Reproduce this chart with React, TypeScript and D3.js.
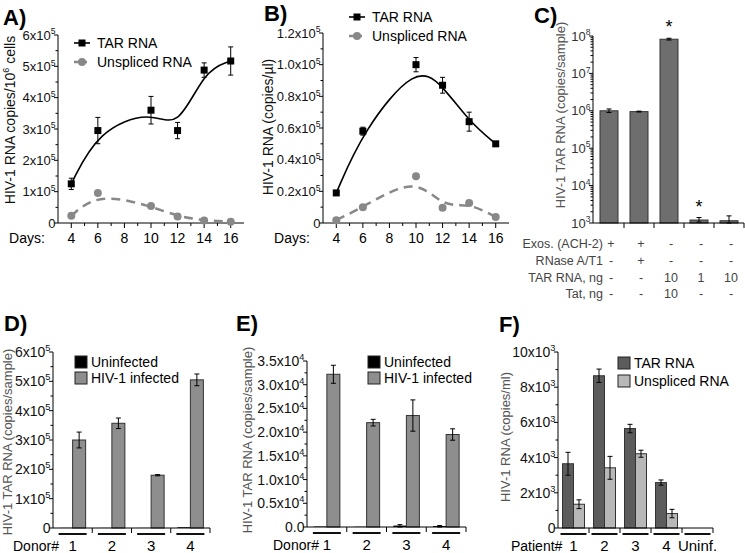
import * as React from 'react'
import * as d3 from 'd3'

const FONT = '"Liberation Sans", Arial, sans-serif'

// A / B time course
const days = [4, 6, 10, 12, 14, 16]
const dayTicks = [4, 6, 8, 10, 12, 14, 16]
const dayMinor = [5, 7, 9, 11, 13, 15]
const aTar = [1.25, 2.95, 3.6, 2.95, 4.88, 5.17]
const aTarErr = [0.18, 0.42, 0.44, 0.26, 0.23, 0.45]
const aUnspliced = [0.23, 0.96, 0.54, 0.21, 0.08, 0.04]
const bTar = [0.19, 0.58, 1.0, 0.87, 0.64, 0.5]
const bTarErr = [0, 0.025, 0.045, 0.05, 0.06, 0]
const bUnspliced = [0.018, 0.1, 0.296, 0.097, 0.127, 0.038]
const bUnsplicedErr = [0, 0, 0.012, 0, 0, 0]

// C exosomes
const cCols = ['c1', 'c2', 'c3', 'c4', 'c5']
const cRowLabels = ['Exos. (ACH-2)', 'RNase A/T1', 'TAR RNA, ng', 'Tat, ng']
const cTable = [
  ['+', '+', '-', '-', '-'],
  ['-', '+', '-', '-', '-'],
  ['-', '-', '10', '1', '10'],
  ['-', '-', '10', '-', '-'],
]
const cValues = [1.0e6, 0.95e6, 8.2e7, 1.2e3, 1.15e3]
const cErrHi = [1.12e6, 0.98e6, 8.7e7, 1.4e3, 1.55e3]
const cErrLo = [0.9e6, 0.93e6, 7.8e7, 1.05e3, 1.0e3]
const cStars = [false, false, true, true, false]

// D / E donors
const donors = ['1', '2', '3', '4']
const dUninfected = [0.004, 0.003, 0.003, 0.025]
const dInfected = [3.0, 3.57, 1.8, 5.05]
const dInfectedErr = [0.27, 0.18, 0.02, 0.2]
const eUninfected = [0.01, 0.005, 0.03, 0.02]
const eUninfectedErr = [0, 0, 0.02, 0.01]
const eInfected = [3.22, 2.2, 2.35, 1.95]
const eInfectedErr = [0.19, 0.07, 0.33, 0.12]

// F patients
const patients = ['1', '2', '3', '4', 'Uninf.']
const fTar = [3.65, 8.65, 5.65, 2.58, 0]
const fTarErr = [0.65, 0.38, 0.24, 0.15, 0]
const fUnspliced = [1.35, 3.42, 4.22, 0.82, 0]
const fUnsplicedErr = [0.25, 0.65, 0.2, 0.24, 0]

function Label({x, y, base, exp, size = 13, anchor = 'end', fill = '#111'}) {
  return (
    <text x={x} y={y} textAnchor={anchor} fontSize={size} fill={fill}>
      {base}
      {exp ? <tspan dy={-size * 0.42} fontSize={size * 0.66}>{exp}</tspan> : null}
    </text>
  )
}

function YAxis({x, scale, majors, minors, fmt, size = 13, fill = '#111'}) {
  const [y0, y1] = scale.range()
  return (
    <g>
      <line x1={x} x2={x} y1={y0} y2={y1} stroke="#000" />
      {minors.map(v => (
        <line key={'m' + v} x1={x - 2.5} x2={x} y1={scale(v)} y2={scale(v)} stroke="#000" />
      ))}
      {majors.map(v => {
        const [b, e] = fmt(v)
        const yy = scale(v)
        return (
          <g key={'t' + v}>
            <line x1={x - 4} x2={x} y1={yy} y2={yy} stroke="#000" />
            <Label x={x - 2.5} y={yy + size * 0.36} base={b} exp={e} size={size} fill={fill} />
          </g>
        )
      })}
    </g>
  )
}

function YTitle({x, y, children, size = 14, fill = '#111'}) {
  return (
    <text transform={`translate(${x},${y}) rotate(-90)`} textAnchor="middle" fontSize={size} fill={fill}>
      {children}
    </text>
  )
}

function ErrBar({x, yHi, yLo, w = 5}) {
  return (
    <g stroke="#000" strokeWidth={1}>
      <line x1={x} x2={x} y1={yHi} y2={yLo} />
      <line x1={x - w / 2} x2={x + w / 2} y1={yHi} y2={yHi} />
      <line x1={x - w / 2} x2={x + w / 2} y1={yLo} y2={yLo} />
    </g>
  )
}

function TimeCourse({x0, x1, yTop, yBottom, yMax, tar, tarErr, uns, unsErr, fmt, majors, minors}) {
  const x = d3.scaleLinear().domain([3, 17]).range([x0, x1])
  const y = d3.scaleLinear().domain([0, yMax]).range([yBottom, yTop])
  const line = d3.line<[number, number]>().x(d => x(d[0])).y(d => y(d[1])).curve(d3.curveBasis)
  const tarPts = days.map((d, i) => [d, tar[i]] as [number, number])
  const unsPts = days.map((d, i) => [d, uns[i]] as [number, number])
  return (
    <g>
      <YAxis x={x0} scale={y} majors={majors} minors={minors} fmt={fmt} />
      <line x1={x0} x2={x1} y1={yBottom} y2={yBottom} stroke="#000" />
      {dayTicks.map(d => (
        <g key={d}>
          <line x1={x(d)} x2={x(d)} y1={yBottom} y2={yBottom + 5} stroke="#000" />
          <text x={x(d)} y={yBottom + 20} textAnchor="middle" fontSize={14}>{d}</text>
        </g>
      ))}
      {dayMinor.map(d => (
        <line key={d} x1={x(d)} x2={x(d)} y1={yBottom} y2={yBottom + 3} stroke="#000" />
      ))}
      <text x={x0 - 31} y={yBottom + 20} textAnchor="middle" fontSize={14}>Days:</text>
      <path d={line(unsPts) || ''} fill="none" stroke="#888" strokeWidth={2.5} strokeDasharray="9,6" />
      <path d={line(tarPts) || ''} fill="none" stroke="#000" strokeWidth={1.6} />
      {days.map((d, i) => unsErr[i] > 0 ? (
        <ErrBar key={'ue' + d} x={x(d)} yHi={y(uns[i] + unsErr[i])} yLo={y(uns[i] - unsErr[i])} />
      ) : null)}
      {days.map((d, i) => tarErr[i] > 0 ? (
        <ErrBar key={'te' + d} x={x(d)} yHi={y(tar[i] + tarErr[i])} yLo={y(tar[i] - tarErr[i])} />
      ) : null)}
      {days.map((d, i) => (
        <circle key={'u' + d} cx={x(d)} cy={y(uns[i])} r={4} fill="#888" />
      ))}
      {days.map((d, i) => (
        <rect key={'t' + d} x={x(d) - 3.5} y={y(tar[i]) - 3.5} width={7} height={7} fill="#000" />
      ))}
    </g>
  )
}

function LineLegend({x, y}) {
  return (
    <g fontSize={14}>
      <line x1={x} x2={x + 16} y1={y} y2={y} stroke="#000" strokeWidth={1.6} />
      <rect x={x + 4.5} y={y - 3.5} width={7} height={7} fill="#000" />
      <text x={x + 23} y={y + 5}>TAR RNA</text>
      <line x1={x} x2={x + 16} y1={y + 19} y2={y + 19} stroke="#888" strokeWidth={2.5} strokeDasharray="5,3" />
      <circle cx={x + 8} cy={y + 19} r={4} fill="#888" />
      <text x={x + 23} y={y + 24}>Unspliced RNA</text>
    </g>
  )
}

function BoxLegend({x, y, items, gap = 17}) {
  return (
    <g fontSize={14}>
      {items.map(([name, color], i) => (
        <g key={name}>
          <rect x={x} y={y + i * gap - 6} width={12} height={12} fill={color} stroke="#222" />
          <text x={x + 16} y={y + i * gap + 5}>{name}</text>
        </g>
      ))}
    </g>
  )
}

function GroupAxis({x0, x1, yBase, band, cats, title, titleX, underline}) {
  const bw = band.bandwidth()
  return (
    <g>
      <line x1={x0} x2={x1} y1={yBase} y2={yBase} stroke="#000" />
      {cats.map((c, i) => (
        <g key={c}>
          <line x1={band(c) + bw} x2={band(c) + bw} y1={yBase} y2={yBase + 5} stroke="#000" />
          <line x1={band(c) + bw / 2 - underline} x2={band(c) + bw / 2 + underline} y1={yBase + 6} y2={yBase + 6} stroke="#111" strokeWidth={2} />
          <text x={band(c) + bw / 2} y={yBase + 23} textAnchor="middle" fontSize={15}>{c}</text>
        </g>
      ))}
      <text x={titleX} y={yBase + 23} fontSize={14}>{title}</text>
    </g>
  )
}

function PanelC() {
  const x = d3.scaleBand().domain(cCols).range([594, 744]).paddingInner(0.4).paddingOuter(0.2)
  const y = d3.scaleLog().domain([1e3, 1e8]).range([223, 36])
  const majors = [1e3, 1e4, 1e5, 1e6, 1e7, 1e8]
  const minors: number[] = []
  for (let k = 3; k < 8; k++) for (let m = 2; m < 10; m++) minors.push(m * Math.pow(10, k))
  const band = d3.scaleBand().domain(cCols).range([594, 744])
  const rowY = [243, 260, 277, 293]
  return (
    <g>
      {cCols.map((c, i) => (
        <rect key={c} x={x(c)} y={y(cValues[i])} width={x.bandwidth()} height={223 - y(cValues[i])} fill="#6e6e6e" stroke="#333" />
      ))}
      {cCols.map((c, i) => (
        <ErrBar key={'e' + c} x={x(c) + x.bandwidth() / 2} yHi={y(cErrHi[i])} yLo={Math.min(223, y(cErrLo[i]))} />
      ))}
      {cCols.map((c, i) => cStars[i] ? (
        <text key={'s' + c} x={x(c) + x.bandwidth() / 2} y={y(cErrHi[i]) - 5} textAnchor="middle" fontSize={18}>*</text>
      ) : null)}
      <YAxis x={593} scale={y} majors={majors} minors={minors}
        fmt={v => ['10', String(Math.round(Math.log10(v)))]} size={13} fill="#333" />
      <line x1={593} x2={744} y1={223} y2={223} stroke="#000" />
      {cCols.map(c => (
        <line key={'t' + c} x1={band(c) + band.bandwidth()} x2={band(c) + band.bandwidth()} y1={223} y2={228} stroke="#000" />
      ))}
      {cRowLabels.map((r, j) => (
        <g key={r} fontSize={12.5} fill="#444">
          <text x={603} y={rowY[j] + 5} textAnchor="end">{r}</text>
          {cTable[j].map((v, i) => (
            <text key={i} x={x(cCols[i]) + x.bandwidth() / 2 + 2} y={rowY[j] + 5} textAnchor="middle">{v}</text>
          ))}
        </g>
      ))}
      <YTitle x={565} y={115} size={13} fill="#555">HIV-1 TAR RNA (copies/sample)</YTitle>
    </g>
  )
}

function DonorPanel({x0, x1, yTop, yBase, yMax, majors, minors, fmt, uninf, uninfErr, inf, infErr, titleX, legendX}) {
  const band = d3.scaleBand().domain(donors).range([x0, x1])
  const y = d3.scaleLinear().domain([0, yMax]).range([yBase, yTop])
  const bw = 13
  return (
    <g>
      {donors.map((c, i) => {
        const cx = band(c) + band.bandwidth() / 2
        return (
          <g key={c}>
            <rect x={cx - bw} y={y(uninf[i])} width={bw} height={yBase - y(uninf[i])} fill="#000" />
            <rect x={cx} y={y(inf[i])} width={bw} height={yBase - y(inf[i])} fill="#8e8e8e" stroke="#333" />
            {infErr[i] > 0 ? <ErrBar x={cx + bw / 2} yHi={y(inf[i] + infErr[i])} yLo={y(inf[i] - infErr[i])} /> : null}
            {uninfErr[i] > 0 ? <ErrBar x={cx - bw / 2} yHi={y(uninf[i] + uninfErr[i])} yLo={yBase} /> : null}
          </g>
        )
      })}
      <YAxis x={x0} scale={y} majors={majors} minors={minors} fmt={fmt} size={14} />
      <GroupAxis x0={x0} x1={x1} yBase={yBase} band={band} cats={donors} title="Donor#" titleX={titleX} underline={14} />
      <BoxLegend x={legendX} y={362} items={[['Uninfected', '#000'], ['HIV-1 infected', '#8e8e8e']]} gap={16} />
    </g>
  )
}

function PanelF() {
  const band = d3.scaleBand().domain(patients).range([558, 713])
  const y = d3.scaleLinear().domain([0, 10]).range([528, 352])
  const bw = 11
  return (
    <g>
      {patients.map((c, i) => {
        const cx = band(c) + band.bandwidth() / 2
        return (
          <g key={c}>
            <rect x={cx - bw} y={y(fTar[i])} width={bw} height={528 - y(fTar[i])} fill="#5c5c5c" stroke="#333" />
            <rect x={cx} y={y(fUnspliced[i])} width={bw} height={528 - y(fUnspliced[i])} fill="#b8b8b8" stroke="#333" />
            {fTarErr[i] > 0 ? <ErrBar x={cx - bw / 2} yHi={y(fTar[i] + fTarErr[i])} yLo={y(fTar[i] - fTarErr[i])} /> : null}
            {fUnsplicedErr[i] > 0 ? <ErrBar x={cx + bw / 2} yHi={y(fUnspliced[i] + fUnsplicedErr[i])} yLo={y(fUnspliced[i] - fUnsplicedErr[i])} /> : null}
          </g>
        )
      })}
      <YAxis x={558} scale={y} majors={[0, 2, 4, 6, 8, 10]} minors={[1, 3, 5, 7, 9]}
        fmt={v => v === 0 ? ['0'] : [v + 'x10', '3']} size={14} />
      <GroupAxis x0={558} x1={713} yBase={528} band={band} cats={patients} title="Patient#" titleX={511} underline={13} />
      <BoxLegend x={618} y={363} items={[['TAR RNA', '#5c5c5c'], ['Unspliced RNA', '#b8b8b8']]} gap={18} />
      <YTitle x={510} y={437} size={13} fill="#555">HIV-1 RNA (copies/ml)</YTitle>
    </g>
  )
}

export default function App() {
  const fmtA = v => v === 0 ? ['0'] : [v + 'x10', '5']
  const fmtB = v => v === 0 ? ['0'] : [v.toFixed(1) + 'x10', '5']
  const fmtD = v => v === 0 ? ['0'] : [v + 'x10', '5']
  const fmtE = v => [v.toFixed(1) + (v === 0 ? '' : 'x10'), v === 0 ? undefined : '4']
  return (
    <svg width={745} height={553} style={{position: 'absolute', left: 0, top: 0, background: '#fff'}}
      fontFamily={FONT}>
      <rect width={745} height={553} fill="#fff" />
      <g fontWeight="bold" fontSize={22}>
        <text x={3} y={25}>A)</text>
        <text x={264} y={21}>B)</text>
        <text x={534} y={23}>C)</text>
        <text x={4} y={331}>D)</text>
        <text x={236} y={331}>E)</text>
        <text x={499} y={332}>F)</text>
      </g>
      <TimeCourse x0={58} x1={244} yTop={35} yBottom={223} yMax={6}
        tar={aTar} tarErr={aTarErr} uns={aUnspliced} unsErr={[0, 0, 0, 0, 0, 0]}
        fmt={fmtA} majors={[0, 1, 2, 3, 4, 5, 6]} minors={[0.5, 1.5, 2.5, 3.5, 4.5, 5.5]} />
      <LineLegend x={74} y={43} />
      <YTitle x={15} y={120} size={14}>
        HIV-1 RNA copies/10<tspan dy={-6} fontSize={9}>6</tspan><tspan dy={6}> cells</tspan>
      </YTitle>
      <TimeCourse x0={323} x1={509} yTop={33} yBottom={223} yMax={1.2}
        tar={bTar} tarErr={bTarErr} uns={bUnspliced} unsErr={bUnsplicedErr}
        fmt={fmtB} majors={[0, 0.2, 0.4, 0.6, 0.8, 1.0, 1.2]} minors={[0.1, 0.3, 0.5, 0.7, 0.9, 1.1]} />
      <LineLegend x={349} y={17} />
      <YTitle x={273} y={127} size={14}>HIV-1 RNA (copies/µl)</YTitle>
      <PanelC />
      <DonorPanel x0={53} x1={210} yTop={352} yBase={528} yMax={6}
        majors={[0, 1, 2, 3, 4, 5, 6]} minors={[0.5, 1.5, 2.5, 3.5, 4.5, 5.5]} fmt={fmtD}
        uninf={dUninfected} uninfErr={[0, 0, 0, 0]} inf={dInfected} infErr={dInfectedErr}
        titleX={13} legendX={75} />
      <YTitle x={12} y={442} size={13} fill="#555">HIV-1 TAR RNA (copies/sample)</YTitle>
      <DonorPanel x0={307} x1={466} yTop={361} yBase={527} yMax={3.5}
        majors={[0, 0.5, 1, 1.5, 2, 2.5, 3, 3.5]} minors={[0.25, 0.75, 1.25, 1.75, 2.25, 2.75, 3.25]} fmt={fmtE}
        uninf={eUninfected} uninfErr={eUninfectedErr} inf={eInfected} infErr={eInfectedErr}
        titleX={273} legendX={368} />
      <YTitle x={252} y={440} size={13} fill="#555">HIV-1 TAR RNA (copies/sample)</YTitle>
      <PanelF />
    </svg>
  )
}
